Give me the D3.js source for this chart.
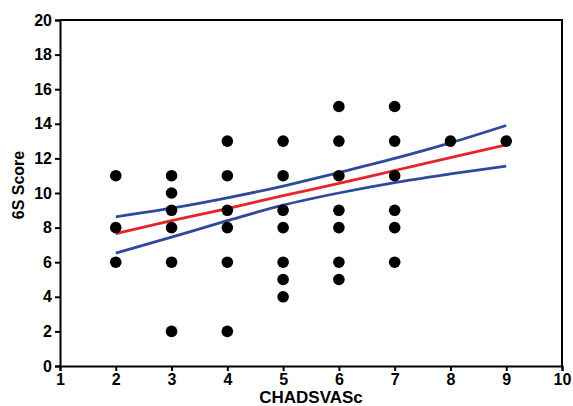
<!DOCTYPE html>
<html>
<head>
<meta charset="utf-8">
<script src="https://cdn.jsdelivr.net/npm/d3@7"></script>
<style>
  body { margin: 0; background: #fff; }
  text { font-family: "Liberation Sans", Arial, sans-serif; font-weight: bold; }
</style>
</head>
<body>
<svg id="chart" width="573" height="406"></svg>
<script>
// Data
const xs = [2, 2, 2, 3, 3, 3, 3, 3, 3, 4, 4, 4, 4, 4, 4, 5, 5, 5, 5, 5, 5, 5, 6, 6, 6, 6, 6, 6, 6, 7, 7, 7, 7, 7, 7, 8, 9];
const ys = [11, 8, 6, 11, 10, 9, 8, 6, 2, 13, 11, 9, 8, 6, 2, 13, 11, 9, 8, 6, 5, 4, 15, 13, 11, 9, 8, 6, 5, 15, 13, 11, 9, 8, 6, 13, 13];

const fitX = [2, 3, 4, 5, 6, 7, 8, 9];
const fitY = [7.65, 8.4, 9.1, 9.85, 10.55, 11.3, 12.05, 12.78];
const upperY = [8.62, 9.12, 9.72, 10.4, 11.18, 12.0, 12.9, 13.9];
const lowerY = [6.52, 7.45, 8.4, 9.3, 10.0, 10.6, 11.1, 11.56];

const xTicks = [1, 2, 3, 4, 5, 6, 7, 8, 9, 10];
const yTicks = [0, 2, 4, 6, 8, 10, 12, 14, 16, 18, 20];

const svg = d3.select("#chart"),
    margin = { top: 20, right: 11, bottom: 40, left: 60 },
    width = +svg.attr("width") - margin.left - margin.right,
    height = +svg.attr("height") - margin.top - margin.bottom,
    g = svg.append("g").attr("transform", `translate(${margin.left},${margin.top})`);

const x = d3.scaleLinear().domain([1, 10]).range([0, width]);
const y = d3.scaleLinear().domain([0, 20]).range([height, 0]);

// Frame (top and right)
g.append("path")
    .attr("d", `M0,0H${width}V${height}`)
    .attr("fill", "none")
    .attr("stroke", "#000")
    .attr("stroke-width", 2);

// Axes
const xAxis = g.append("g")
    .attr("transform", `translate(0,${height})`)
    .call(d3.axisBottom(x).tickValues(xTicks).tickSize(5).tickPadding(3).tickFormat(d3.format("d")));
const yAxis = g.append("g")
    .call(d3.axisLeft(y).tickValues(yTicks).tickSize(5).tickPadding(3).tickFormat(d3.format("d")));

[xAxis, yAxis].forEach(a => {
    a.select(".domain").attr("stroke-width", 2);
    a.selectAll(".tick line").attr("stroke-width", 2);
    a.selectAll(".tick text")
        .style("font-size", "16px")
        .style("font-family", "'Liberation Sans', Arial, sans-serif")
        .style("font-weight", "bold")
        .attr("fill", "#000");
});

// Axis titles
svg.append("text")
    .attr("x", margin.left + width / 2)
    .attr("y", 403)
    .attr("text-anchor", "middle")
    .style("font-size", "17px")
    .text("CHADSVASc");

svg.append("text")
    .attr("transform", "rotate(-90)")
    .attr("x", -185)
    .attr("y", 24)
    .attr("text-anchor", "middle")
    .style("font-size", "16px")
    .text("6S Score");

// Regression and confidence bands
const line = d3.line()
    .x(d => x(d[0]))
    .y(d => y(d[1]))
    .curve(d3.curveMonotoneX);

[[upperY, "#2e4a9e"], [lowerY, "#2e4a9e"], [fitY, "#e8232a"]].forEach(([vals, color]) => {
    g.append("path")
        .datum(fitX.map((v, i) => [v, vals[i]]))
        .attr("d", line)
        .attr("fill", "none")
        .attr("stroke", color)
        .attr("stroke-width", 2.8);
});

// Points
g.selectAll(".dot")
    .data(xs.map((v, i) => [v, ys[i]]))
    .enter().append("circle")
    .attr("class", "dot")
    .attr("cx", d => x(d[0]))
    .attr("cy", d => y(d[1]))
    .attr("r", 5.8)
    .attr("fill", "#000");
</script>
</body>
</html>
